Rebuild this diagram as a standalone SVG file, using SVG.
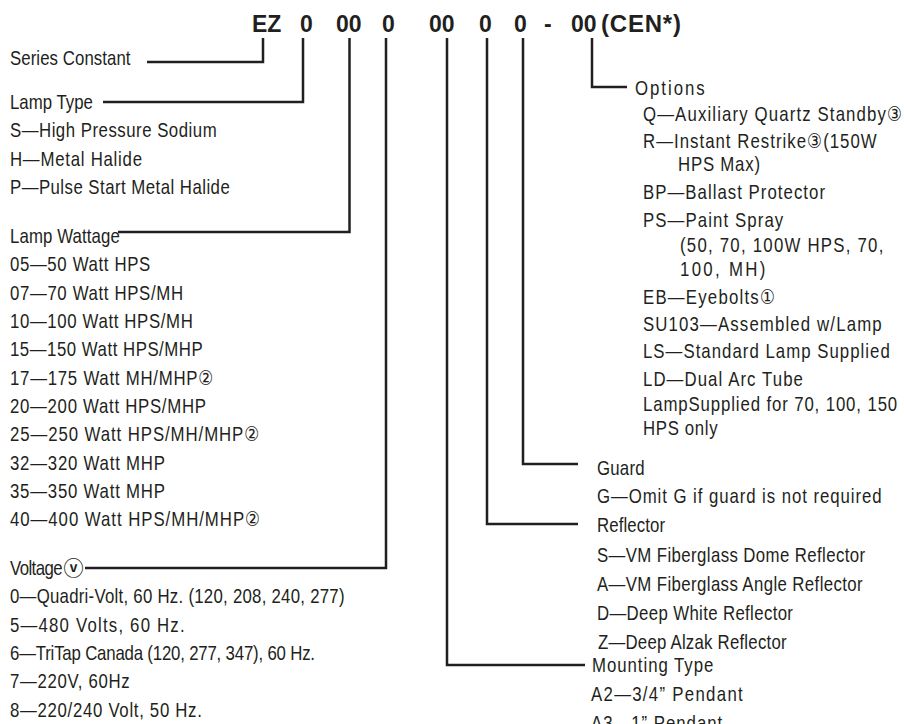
<svg xmlns="http://www.w3.org/2000/svg" width="904" height="724" viewBox="0 0 904 724">
<style>
text{fill:#231f20;font-family:"Liberation Sans",Arial,"DejaVu Sans",sans-serif;font-size:20.5px}
.code{font-weight:bold;font-size:23px}
.sym{font-weight:bold;font-size:20px;font-family:"Noto Sans CJK JP","DejaVu Sans",sans-serif}
.ln{fill:none;stroke:#231f20;stroke-width:2.5}
</style>
<rect width="904" height="724" fill="#fff"/>
<g id="code">
<text class="code" x="252" y="32">EZ</text>
<text class="code" x="300" y="32">0</text>
<text class="code" x="336" y="32">00</text>
<text class="code" x="382" y="32">0</text>
<text class="code" x="429" y="32">00</text>
<text class="code" x="479" y="32">0</text>
<text class="code" x="514" y="32">0</text>
<text class="code" x="544" y="32">-</text>
<text class="code" x="571" y="32">00</text>
<text class="code" x="601" y="32" style="font-size:24px" textLength="80" lengthAdjust="spacing">(CEN*)</text>
</g>
<g id="connectors">
<path class="ln" d="M263,38V62H147"/>
<path class="ln" d="M303,38V102H103"/>
<path class="ln" d="M349.5,38V232H118"/>
<path class="ln" d="M386,38V568H85"/>
<path class="ln" d="M447,38V665H585"/>
<path class="ln" d="M487,38V524H578"/>
<path class="ln" d="M523,38V464H578"/>
<path class="ln" d="M592,38V87H627"/>
</g>
<g id="series-constant" transform="translate(10,0) scale(0.82,1)">
<text x="0" y="65" textLength="147" lengthAdjust="spacing">Series Constant</text>
</g>
<g id="lamp-type" transform="translate(10,0) scale(0.82,1)">
<text x="0" y="109" textLength="101" lengthAdjust="spacing">Lamp Type</text>
<text x="0" y="137.5" textLength="252" lengthAdjust="spacing">S—High Pressure Sodium</text>
<text x="0" y="166" textLength="161" lengthAdjust="spacing">H—Metal Halide</text>
<text x="0" y="194" textLength="268" lengthAdjust="spacing">P—Pulse Start Metal Halide</text>
</g>
<g id="lamp-wattage" transform="translate(10,0) scale(0.82,1)">
<text x="0" y="243" textLength="134" lengthAdjust="spacing">Lamp Wattage</text>
<text x="0" y="271.5" textLength="171" lengthAdjust="spacing">05—50 Watt HPS</text>
<text x="0" y="300" textLength="211" lengthAdjust="spacing">07—70 Watt HPS/MH</text>
<text x="0" y="328" textLength="223" lengthAdjust="spacing">10—100 Watt HPS/MH</text>
<text x="0" y="356.5" textLength="235" lengthAdjust="spacing">15—150 Watt HPS/MHP</text>
<text x="0" y="385" textLength="248" lengthAdjust="spacing">17—175 Watt MH/MHP②</text>
<text x="0" y="413" textLength="239" lengthAdjust="spacing">20—200 Watt HPS/MHP</text>
<text x="0" y="441.5" textLength="304" lengthAdjust="spacing">25—250 Watt HPS/MH/MHP②</text>
<text x="0" y="470" textLength="189" lengthAdjust="spacing">32—320 Watt MHP</text>
<text x="0" y="498" textLength="189" lengthAdjust="spacing">35—350 Watt MHP</text>
<text x="0" y="526.5" textLength="305" lengthAdjust="spacing">40—400 Watt HPS/MH/MHP②</text>
</g>
<g id="voltage">
<text class="sym" x="63.5" y="576">ⓥ</text>
<g transform="translate(10,0) scale(0.82,1)">
<text x="0" y="575" textLength="64" lengthAdjust="spacing">Voltage</text>
<text x="0" y="603.5" textLength="408" lengthAdjust="spacing">0—Quadri-Volt, 60 Hz. (120, 208, 240, 277)</text>
<text x="0" y="632" textLength="213" lengthAdjust="spacing">5—480 Volts, 60 Hz.</text>
<text x="0" y="660" textLength="372" lengthAdjust="spacing">6—TriTap Canada (120, 277, 347), 60 Hz.</text>
<text x="0" y="688.5" textLength="146" lengthAdjust="spacing">7—220V, 60Hz</text>
<text x="0" y="717" textLength="234" lengthAdjust="spacing">8—220/240 Volt, 50 Hz.</text>
</g>
</g>
<g id="options" transform="translate(597,0) scale(0.82,1)">
<text x="46.3" y="95" textLength="85" lengthAdjust="spacing">Options</text>
<text x="56.1" y="121.5" textLength="316" lengthAdjust="spacing">Q—Auxiliary Quartz Standby③</text>
<text x="56.1" y="148.5" textLength="285" lengthAdjust="spacing">R—Instant Restrike③(150W</text>
<text x="98.8" y="171.5" textLength="100" lengthAdjust="spacing">HPS Max)</text>
<text x="56.1" y="199.5" textLength="222" lengthAdjust="spacing">BP—Ballast Protector</text>
<text x="56.1" y="227.5" textLength="171" lengthAdjust="spacing">PS—Paint Spray</text>
<text x="101.2" y="252.5" textLength="248" lengthAdjust="spacing">(50, 70, 100W HPS, 70,</text>
<text x="101.2" y="276.5" textLength="104" lengthAdjust="spacing">100, MH)</text>
<text x="56.1" y="304.5" textLength="161" lengthAdjust="spacing">EB—Eyebolts①</text>
<text x="56.1" y="331.5" textLength="291" lengthAdjust="spacing">SU103—Assembled w/Lamp</text>
<text x="56.1" y="358.5" textLength="301" lengthAdjust="spacing">LS—Standard Lamp Supplied</text>
<text x="56.1" y="386.5" textLength="195" lengthAdjust="spacing">LD—Dual Arc Tube</text>
<text x="56.1" y="411.5" textLength="310" lengthAdjust="spacing">LampSupplied for 70, 100, 150</text>
<text x="56.1" y="435.5" textLength="91" lengthAdjust="spacing">HPS only</text>
</g>
<g id="guard" transform="translate(597,0) scale(0.82,1)">
<text x="0" y="475" textLength="58" lengthAdjust="spacing">Guard</text>
<text x="0" y="503" textLength="347" lengthAdjust="spacing">G—Omit G if guard is not required</text>
</g>
<g id="reflector" transform="translate(597,0) scale(0.82,1)">
<text x="0" y="532" textLength="83" lengthAdjust="spacing">Reflector</text>
<text x="0" y="562" textLength="327" lengthAdjust="spacing">S—VM Fiberglass Dome Reflector</text>
<text x="0" y="591" textLength="324" lengthAdjust="spacing">A—VM Fiberglass Angle Reflector</text>
<text x="0" y="620" textLength="239" lengthAdjust="spacing">D—Deep White Reflector</text>
<text x="1.2" y="649" textLength="230" lengthAdjust="spacing">Z—Deep Alzak Reflector</text>
</g>
<g id="mounting-type" transform="translate(597,0) scale(0.82,1)">
<text x="-6.1" y="672" textLength="148" lengthAdjust="spacing">Mounting Type</text>
<text x="-7.3" y="701" textLength="185" lengthAdjust="spacing">A2—3/4” Pendant</text>
<text x="-7.3" y="730" textLength="160" lengthAdjust="spacing">A3—1” Pendant</text>
</g>
</svg>
